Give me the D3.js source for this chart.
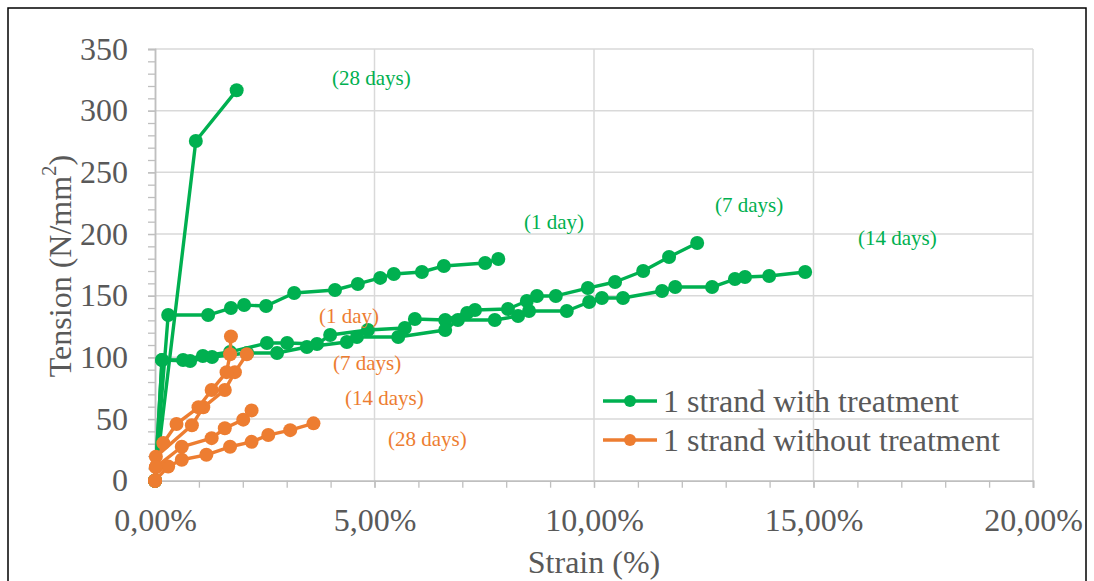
<!DOCTYPE html>
<html>
<head>
<meta charset="utf-8">
<script src="https://cdn.jsdelivr.net/npm/d3@7"></script>
<style>
  body { margin: 0; background: #fff; }
  svg text { font-family: "Liberation Serif", Tinos, "Times New Roman", "DejaVu Serif", serif !important; }
</style>
</head>
<body>
<script>
// strain (%) and tension (N/mm2)
var strainTreated1d  = [0, 0.30, 1.21, 1.73, 2.03, 2.53, 3.17, 4.10, 4.62, 5.13, 5.44, 6.08, 6.58, 7.52, 7.82];
var tensionTreated1d = [0, 134.3, 134.3, 140, 142.4, 141.6, 152.2, 154.6, 159.5, 164.4, 167.6, 169.2, 174.1, 176.5, 179.8];

var strainTreated7d  = [0, 0.16, 0.64, 1.09, 1.71, 2.55, 3.01, 3.69, 3.99, 4.85, 5.69, 5.92, 6.61, 7.11, 7.29, 8.04, 8.47, 8.70, 9.13, 9.86, 10.48, 11.12, 11.71, 12.35];
var tensionTreated7d = [0, 97.9, 97.9, 101.1, 104.4, 111.6, 111.6, 110.8, 118.1, 122.2, 123.8, 131.1, 130.3, 136, 138.4, 139.2, 145.7, 149.8, 149.8, 156.2, 161.1, 170, 181.4, 192.7];

var strainTreated14d  = [0, 0.16, 0.80, 1.30, 2.10, 2.78, 3.46, 4.37, 4.60, 5.54, 6.61, 6.90, 7.74, 8.27, 8.52, 9.38, 9.89, 10.18, 10.66, 11.55, 11.85, 12.69, 13.21, 13.44, 13.99, 14.81];
var tensionTreated14d = [0, 97.9, 97.1, 100.3, 103.5, 103.5, 108.4, 112.5, 116.5, 116.5, 122.2, 130.3, 130.3, 133.5, 137.6, 137.6, 144.9, 148.1, 148.1, 153.8, 157, 157, 163.5, 165.1, 166, 169.2];

var strainTreated28d  = [0, 0.93, 1.86];
var tensionTreated28d = [0, 275.4, 316.5];

var strainUntreated1d  = [0, 0.02, 0.19, 0.49, 0.99, 1.29, 1.63, 1.71, 1.73];
var tensionUntreated1d = [0, 11, 30.5, 46, 59.5, 73.5, 88, 102.5, 117];

var strainUntreated7d  = [0, 0.02, 0.84, 1.10, 1.59, 1.82, 2.09];
var tensionUntreated7d = [0, 19.5, 45, 59.5, 73.5, 88, 102.5];

var strainUntreated14d  = [0, 0.02, 0.61, 1.29, 1.59, 2.01, 2.20];
var tensionUntreated14d = [0, 11, 27.5, 34.5, 42.5, 49.5, 57];

var strainUntreated28d  = [0, 0.30, 0.61, 1.17, 1.71, 2.20, 2.58, 3.08, 3.61];
var tensionUntreated28d = [0, 11.5, 17, 21, 27.5, 31.5, 37, 41, 46.5];

var xTicks = [0, 5, 10, 15, 20];
var yTicks = [0, 50, 100, 150, 200, 250, 300, 350];
var legendNames = ["1 strand with treatment", "1 strand without treatment"];
var treatedLabels = ["(28 days)", "(1 day)", "(7 days)", "(14 days)"];
var untreatedLabels = ["(1 day)", "(7 days)", "(14 days)", "(28 days)"];

var green = "#00b050";
var orange = "#ed7d31";
var fonte = "'Liberation Serif', Tinos, 'Times New Roman', 'DejaVu Serif', serif";

function pares(sx, sy) {
  return sx.map(function(v, i) { return [v, sy[i]]; });
}

var width = 1094;
var height = 581;

var svg = d3.select("body")
            .append("svg")
            .attr("width", width)
            .attr("height", height)
            .attr("font-family", fonte);

// outer frame
svg.append("rect")
   .attr("x", 8)
   .attr("y", 8)
   .attr("width", 1078)
   .attr("height", 600)
   .attr("fill", "none")
   .attr("stroke", "#000")
   .attr("stroke-width", 1.5);

var x = d3.scaleLinear().domain([0, 20]).range([155, 1033]);
var y = d3.scaleLinear().domain([0, 350]).range([480.7, 49]);

// grid
svg.append("g")
   .selectAll("line")
   .data(yTicks.slice(1))
   .enter()
   .append("line")
   .attr("x1", x(0)).attr("x2", x(20))
   .attr("y1", function(d) { return y(d); })
   .attr("y2", function(d) { return y(d); })
   .attr("stroke", "#d9d9d9")
   .attr("stroke-width", 1.5);

svg.append("g")
   .selectAll("line")
   .data(xTicks.slice(1))
   .enter()
   .append("line")
   .attr("y1", y(0)).attr("y2", y(350))
   .attr("x1", function(d) { return x(d); })
   .attr("x2", function(d) { return x(d); })
   .attr("stroke", "#d9d9d9")
   .attr("stroke-width", 1.5);

// axes
var fmtPct = function(d) { return d3.format(".2f")(d).replace(".", ",") + "%"; };

var eixoX = svg.append("g")
               .attr("transform", "translate(0," + y(0) + ")")
               .call(d3.axisBottom(x).tickValues(d3.range(0, 21, 1)).tickSize(7).tickFormat(""));
eixoX.append("g")
     .call(d3.axisBottom(x).tickValues(xTicks).tickSize(7).tickPadding(21).tickFormat(fmtPct));

var eixoY = svg.append("g")
               .attr("transform", "translate(" + x(0) + ",0)")
               .call(d3.axisLeft(y).tickValues(d3.range(0, 351, 10)).tickSize(7).tickFormat(""));
eixoY.append("g")
     .call(d3.axisLeft(y).tickValues(yTicks).tickSize(7).tickPadding(20));

svg.selectAll("g").attr("font-family", fonte);
svg.selectAll(".domain").attr("stroke", "#bfbfbf").attr("stroke-width", 1.5);
svg.selectAll(".tick line").attr("stroke", "#bfbfbf").attr("stroke-width", 1.3);
svg.selectAll(".tick text")
   .attr("fill", "#595959")
   .attr("font-size", 32);

// axis titles
svg.append("text")
   .attr("x", 594)
   .attr("y", 562)
   .attr("text-anchor", "middle")
   .attr("dominant-baseline", "central")
   .attr("fill", "#595959")
   .attr("font-size", 32)
   .text("Strain (%)");

var tituloY = svg.append("text")
                 .attr("transform", "translate(60,266) rotate(-90)")
                 .attr("text-anchor", "middle")
                 .attr("dominant-baseline", "central")
                 .attr("fill", "#595959")
                 .attr("font-size", 32);
tituloY.append("tspan").text("Tension (N/mm");
tituloY.append("tspan").attr("dy", -11).attr("font-size", 21).text("2");
tituloY.append("tspan").attr("dy", 11).text(")");

// series
var series = [
  { cor: green,  d: pares(strainTreated1d, tensionTreated1d) },
  { cor: green,  d: pares(strainTreated7d, tensionTreated7d) },
  { cor: green,  d: pares(strainTreated14d, tensionTreated14d) },
  { cor: green,  d: pares(strainTreated28d, tensionTreated28d) },
  { cor: orange, d: pares(strainUntreated28d, tensionUntreated28d) },
  { cor: orange, d: pares(strainUntreated14d, tensionUntreated14d) },
  { cor: orange, d: pares(strainUntreated7d, tensionUntreated7d) },
  { cor: orange, d: pares(strainUntreated1d, tensionUntreated1d) }
];

var linha = d3.line()
              .x(function(d) { return x(d[0]); })
              .y(function(d) { return y(d[1]); });

series.forEach(function(s) {
  var g = svg.append("g");
  g.append("path")
   .attr("d", linha(s.d))
   .attr("fill", "none")
   .attr("stroke", s.cor)
   .attr("stroke-width", 3.4)
   .attr("stroke-linejoin", "round");
  g.selectAll("circle")
   .data(s.d)
   .enter()
   .append("circle")
   .attr("cx", function(d) { return x(d[0]); })
   .attr("cy", function(d) { return y(d[1]); })
   .attr("r", 7)
   .attr("fill", s.cor);
});

// curve labels
var posVerde = [[332, 78], [524, 222], [715, 205], [858, 238]];
var posLaranja = [[319, 316], [333, 363], [345, 398], [388, 439]];

svg.append("g")
   .selectAll("text")
   .data(treatedLabels)
   .enter()
   .append("text")
   .attr("x", function(d, i) { return posVerde[i][0]; })
   .attr("y", function(d, i) { return posVerde[i][1]; })
   .attr("dominant-baseline", "central")
   .attr("fill", green)
   .attr("font-size", 21)
   .text(function(d) { return d; });

svg.append("g")
   .selectAll("text")
   .data(untreatedLabels)
   .enter()
   .append("text")
   .attr("x", function(d, i) { return posLaranja[i][0]; })
   .attr("y", function(d, i) { return posLaranja[i][1]; })
   .attr("dominant-baseline", "central")
   .attr("fill", orange)
   .attr("font-size", 21)
   .text(function(d) { return d; });

// legend
var legenda = svg.append("g")
                 .selectAll("g")
                 .data(legendNames)
                 .enter()
                 .append("g")
                 .attr("transform", function(d, i) { return "translate(603," + (401 + i * 39) + ")"; });

legenda.append("line")
       .attr("x1", 0).attr("x2", 54)
       .attr("stroke", function(d, i) { return i === 0 ? green : orange; })
       .attr("stroke-width", 3.4);
legenda.append("circle")
       .attr("cx", 27)
       .attr("r", 6)
       .attr("fill", function(d, i) { return i === 0 ? green : orange; });
legenda.append("text")
       .attr("x", 60)
       .attr("dominant-baseline", "central")
       .attr("fill", "#595959")
       .attr("font-size", 32)
       .text(function(d) { return d; });
</script>
</body>
</html>
